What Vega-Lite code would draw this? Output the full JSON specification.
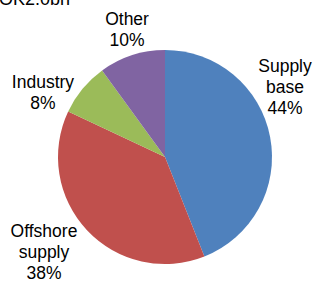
{
  "$schema": "https://vega.github.io/schema/vega-lite/v6.json",
  "width": 296,
  "height": 254,
  "autosize": {"type": "none"},
  "padding": {"left": 17, "top": 30, "right": 0, "bottom": 0},
  "background": "white",
  "title": {
    "text": "NOK2.0bn",
    "anchor": "start",
    "frame": "group",
    "font": "Liberation Sans",
    "fontSize": 18,
    "fontWeight": "normal",
    "color": "black",
    "baseline": "alphabetic",
    "offset": -12,
    "dx": -31
  },
  "data": {
    "values": [
      {"category": "Supply base", "label": "Supply\nbase\n44%", "value": 44, "order": 1},
      {"category": "Offshore supply", "label": "Offshore\nsupply\n38%", "value": 38, "order": 2},
      {"category": "Industry", "label": "Industry\n8%", "value": 8, "order": 3},
      {"category": "Other", "label": "Other\n10%", "value": 10, "order": 4}
    ]
  },
  "transform": [
    {"stack": "value", "groupby": [], "sort": [{"field": "order", "order": "ascending"}], "as": ["t0", "t1"]},
    {"calculate": "(datum.t0 + datum.t1) / 2", "as": "mid"}
  ],
  "layer": [
    {
      "mark": {"type": "arc", "outerRadius": 107},
      "encoding": {
        "theta": {"field": "t0", "type": "quantitative", "scale": {"domain": [0, 100]}},
        "theta2": {"field": "t1"},
        "color": {
          "field": "category",
          "type": "nominal",
          "scale": {
            "domain": ["Supply base", "Offshore supply", "Industry", "Other"],
            "range": ["#4F81BD", "#C0504D", "#9BBB59", "#8064A2"]
          },
          "legend": null
        }
      }
    },
    {
      "transform": [{"filter": "datum.category === 'Supply base'"}],
      "mark": {"type": "text", "radius": 150, "thetaOffset": -0.455, "lineBreak": "\n", "font": "Liberation Sans", "fontSize": 17.5, "lineHeight": 21, "color": "black", "baseline": "middle", "align": "center"},
      "encoding": {"theta": {"field": "mid", "type": "quantitative", "scale": {"domain": [0, 100]}}, "text": {"field": "label", "type": "nominal"}}
    },
    {
      "transform": [{"filter": "datum.category === 'Offshore supply'"}],
      "mark": {"type": "text", "radius": 142.4, "thetaOffset": 0.199, "lineBreak": "\n", "font": "Liberation Sans", "fontSize": 17.5, "lineHeight": 21, "color": "black", "baseline": "middle", "align": "center"},
      "encoding": {"theta": {"field": "mid", "type": "quantitative", "scale": {"domain": [0, 100]}}, "text": {"field": "label", "type": "nominal"}}
    },
    {
      "transform": [{"filter": "datum.category === 'Industry'"}],
      "mark": {"type": "text", "radius": 142.7, "thetaOffset": -0.146, "lineBreak": "\n", "font": "Liberation Sans", "fontSize": 17.5, "lineHeight": 21, "color": "black", "baseline": "middle", "align": "center"},
      "encoding": {"theta": {"field": "mid", "type": "quantitative", "scale": {"domain": [0, 100]}}, "text": {"field": "label", "type": "nominal"}}
    },
    {
      "transform": [{"filter": "datum.category === 'Other'"}],
      "mark": {"type": "text", "radius": 141.7, "thetaOffset": 0.043, "lineBreak": "\n", "font": "Liberation Sans", "fontSize": 17.5, "lineHeight": 21, "color": "black", "baseline": "middle", "align": "center"},
      "encoding": {"theta": {"field": "mid", "type": "quantitative", "scale": {"domain": [0, 100]}}, "text": {"field": "label", "type": "nominal"}}
    }
  ],
  "config": {"view": {"stroke": null}}
}
